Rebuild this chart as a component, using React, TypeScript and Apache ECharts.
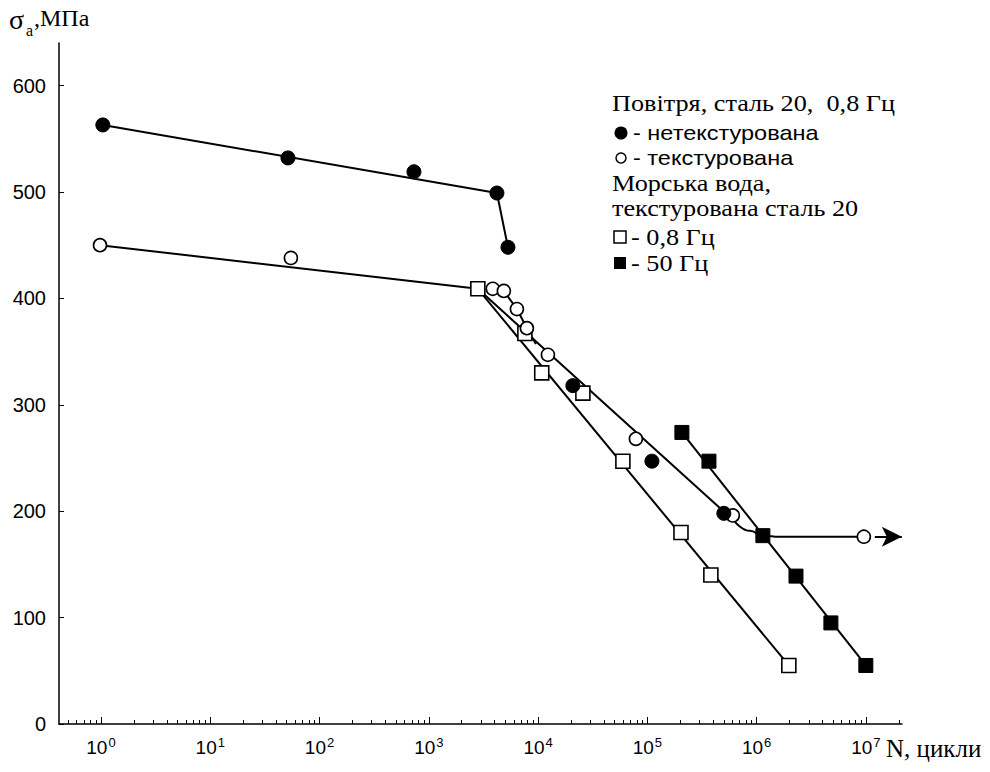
import React, { useEffect, useRef } from "react";
import * as echarts from "echarts";

// ---- axis ticks ----
const xTickExponents = [0, 1, 2, 3, 4, 5, 6, 7];
const yTicks = [0, 100, 200, 300, 400, 500, 600];

// ---- measured points (N cycles, stress amplitude MPa) ----
// Air, steel 20, 0.8 Hz, untextured (filled circles)
const airUntexturedN = [1.04, 51.4, 731, 4200, 5300, 20800, 110000, 501000];
const airUntexturedS = [563, 532, 519, 499, 448, 318, 247, 198];
// Air, steel 20, 0.8 Hz, textured (open circles)
const airTexturedN = [0.98, 54.7, 3850, 4860, 6400, 7900, 12300, 78500, 605000, 9570000];
const airTexturedS = [450, 438, 409, 407, 390, 372, 347, 268, 196, 176];
// Sea water, textured steel 20, 0.8 Hz (open squares)
const sea08N = [2810, 7570, 10800, 25700, 59700, 203000, 381000, 1970000];
const sea08S = [409, 367, 330, 311, 247, 180, 140, 55];
// Sea water, textured steel 20, 50 Hz (filled squares)
const sea50N = [207000, 366000, 1140000, 2290000, 4780000, 9980000];
const sea50S = [274, 247, 177, 139, 95, 55];

// ---- fitted curves ----
const fitAirUntexturedN = [1.04, 4200, 5300];
const fitAirUntexturedS = [563, 499, 448];
const fitAirTexturedN = [0.98, 2810, 631000];
const fitAirTexturedS = [450, 409, 190.3];
const fitAirTexturedBendN = [631000, 867000, 1140000, 1630000, 9570000];
const fitAirTexturedBendS = [190.3, 181.5, 177, 176, 176];
const fitAirTexturedEarlyN = [4860, 6400, 7900, 9550];
const fitAirTexturedEarlyS = [407, 390, 372, 357];
const fitSea08N = [2810, 1970000];
const fitSea08S = [409, 55];
const fitSea50N = [207000, 9980000];
const fitSea50S = [274, 55];
const arrowN = [12050000, 21300000];
const arrowS = 176;

const X_MIN = -0.384;
const X_MAX = 7.33;
const Y_MAX = 640;

const SERIF = '"Liberation Serif", "Times New Roman", serif';
const SANS = '"Liberation Sans", Arial, sans-serif';

const toPts = (ns: number[], ss: number[]) => ns.map((n, i) => [Math.log10(n), ss[i]]);

const minorTicks: number[] = [];
for (let d = -1; d <= 7; d++) {
  for (let m = 2; m <= 9; m++) {
    const v = Math.log10(m) + d;
    if (v > X_MIN && v < X_MAX) minorTicks.push(v);
  }
}

export default function App() {
  const ref = useRef<HTMLDivElement>(null);
  useEffect(() => {
    if (!ref.current) return;
    const chart = echarts.init(ref.current, undefined, { renderer: "svg" });

    const lineStyle = { color: "#000", width: 2 };
    const fitLine = (name: string, data: number[][], smooth = false) => ({
      name,
      type: "line",
      data,
      showSymbol: false,
      symbol: "none",
      smooth: smooth ? 0.5 : false,
      smoothMonotone: smooth ? "x" : undefined,
      lineStyle,
      z: 2,
      silent: true,
    });
    const markers = (name: string, data: number[][], symbol: string, filled: boolean, size: number) => ({
      name,
      type: "scatter",
      data,
      symbol,
      symbolSize: size,
      itemStyle: filled
        ? { color: "#000", borderColor: "#000", borderWidth: 1, opacity: 1 }
        : { color: "#fff", borderColor: "#000", borderWidth: 1.6, opacity: 1 },
      z: 5,
      silent: true,
    });

    const legendText = (text: string, x: number, y: number, font: string, sx: number) => ({
      type: "text",
      x,
      y,
      scaleX: sx,
      style: { text, font, fill: "#000", verticalAlign: "middle" },
    });

    const serifL = `23px ${SERIF}`;
    const sansL = `21px ${SANS}`;

    chart.setOption({
      animation: false,
      backgroundColor: "#fff",
      grid: { left: 59, right: 88, top: 43, bottom: 48, containLabel: false, outerBoundsMode: "none" },
      xAxis: [
        {
          type: "value",
          min: X_MIN,
          max: X_MAX,
          axisLine: { onZero: false, lineStyle: { color: "#000", width: 1.5 } },
          axisTick: { inside: true, length: 7, customValues: xTickExponents, lineStyle: { color: "#000", width: 1 } },
          axisLabel: {
            customValues: xTickExponents,
            margin: 12,
            formatter: (v: number) => `{b|10}{s|${Math.round(v)}}`,
            rich: {
              b: { fontSize: 19, fontFamily: SANS, color: "#000" },
              s: { fontSize: 13, fontFamily: SANS, color: "#000", padding: [0, 0, 10, 1] },
            },
          },
          splitLine: { show: false },
        },
        {
          type: "value",
          min: X_MIN,
          max: X_MAX,
          position: "bottom",
          axisLine: { show: false, onZero: false },
          axisTick: { inside: true, length: 4, customValues: minorTicks, lineStyle: { color: "#000", width: 1 } },
          axisLabel: { show: false },
          splitLine: { show: false },
        },
      ],
      yAxis: {
        type: "value",
        min: 0,
        max: Y_MAX,
        axisLine: { show: true, onZero: false, lineStyle: { color: "#000", width: 1.5 } },
        axisTick: { show: true, inside: true, length: 5, customValues: yTicks, lineStyle: { color: "#000" } },
        axisLabel: { customValues: yTicks, fontSize: 20, fontFamily: SANS, color: "#000", margin: 13 },
        splitLine: { show: false },
      },
      series: [
        fitLine("fitAirUntextured", toPts(fitAirUntexturedN, fitAirUntexturedS)),
        fitLine("fitAirTextured", toPts(fitAirTexturedN, fitAirTexturedS)),
        fitLine("fitAirTexturedBend", toPts(fitAirTexturedBendN, fitAirTexturedBendS), true),
        fitLine("fitAirTexturedEarly", toPts(fitAirTexturedEarlyN, fitAirTexturedEarlyS)),
        fitLine("fitSea08", toPts(fitSea08N, fitSea08S)),
        fitLine("fitSea50", toPts(fitSea50N, fitSea50S)),
        {
          name: "arrow",
          type: "line",
          data: [],
          markLine: {
            silent: true,
            symbol: ["none", "arrow"],
            symbolSize: [15, 20],
            label: { show: false },
            lineStyle: { color: "#000", width: 2, type: "solid" },
            data: [
              [
                { coord: [Math.log10(arrowN[0]), arrowS] },
                { coord: [Math.log10(arrowN[1]), arrowS] },
              ],
            ],
          },
        },
        markers("sea08", toPts(sea08N, sea08S), "rect", false, 14),
        markers("sea50", toPts(sea50N, sea50S), "rect", true, 14),
        markers("airTextured", toPts(airTexturedN, airTexturedS), "circle", false, 13),
        markers("airUntextured", toPts(airUntexturedN, airUntexturedS), "circle", true, 14),
      ],
      graphic: [
        { type: "text", x: 9, y: 19, style: { text: "σ", font: `28px ${SERIF}`, fill: "#000", verticalAlign: "middle" } },
        { type: "text", x: 26, y: 30, style: { text: "a", font: `16px ${SERIF}`, fill: "#000", verticalAlign: "middle" } },
        { type: "text", x: 34, y: 18, style: { text: ",МПа", font: `24px ${SERIF}`, fill: "#000", verticalAlign: "middle" } },
        { type: "text", x: 886, y: 748, style: { text: "N, цикли", font: `25px ${SERIF}`, fill: "#000", verticalAlign: "middle" } },
        legendText("Повітря, сталь 20,  0,8 Гц", 612, 103, serifL, 1.14),
        { type: "circle", shape: { cx: 621, cy: 133, r: 6.5 }, style: { fill: "#000" } },
        legendText("- нетекстурована", 633, 133, sansL, 1.12),
        { type: "circle", shape: { cx: 621, cy: 158, r: 5 }, style: { fill: "#fff", stroke: "#000", lineWidth: 1.5 } },
        legendText("- текстурована", 633, 158, sansL, 1.12),
        legendText("Морська вода,", 612, 183, serifL, 1.14),
        legendText("текстурована сталь 20", 612, 208, serifL, 1.14),
        { type: "rect", shape: { x: 614, y: 231, width: 12, height: 12 }, style: { fill: "#fff", stroke: "#000", lineWidth: 1.5 } },
        legendText("- 0,8 Гц", 631, 237, serifL, 1.14),
        { type: "rect", shape: { x: 614, y: 257, width: 12, height: 12 }, style: { fill: "#000" } },
        legendText("- 50 Гц", 631, 263, serifL, 1.14),
      ],
    });
    return () => chart.dispose();
  }, []);
  return (
    <div
      ref={ref}
      style={{ position: "fixed", left: 0, top: 0, width: 990, height: 772, background: "#fff" }}
    />
  );
}
